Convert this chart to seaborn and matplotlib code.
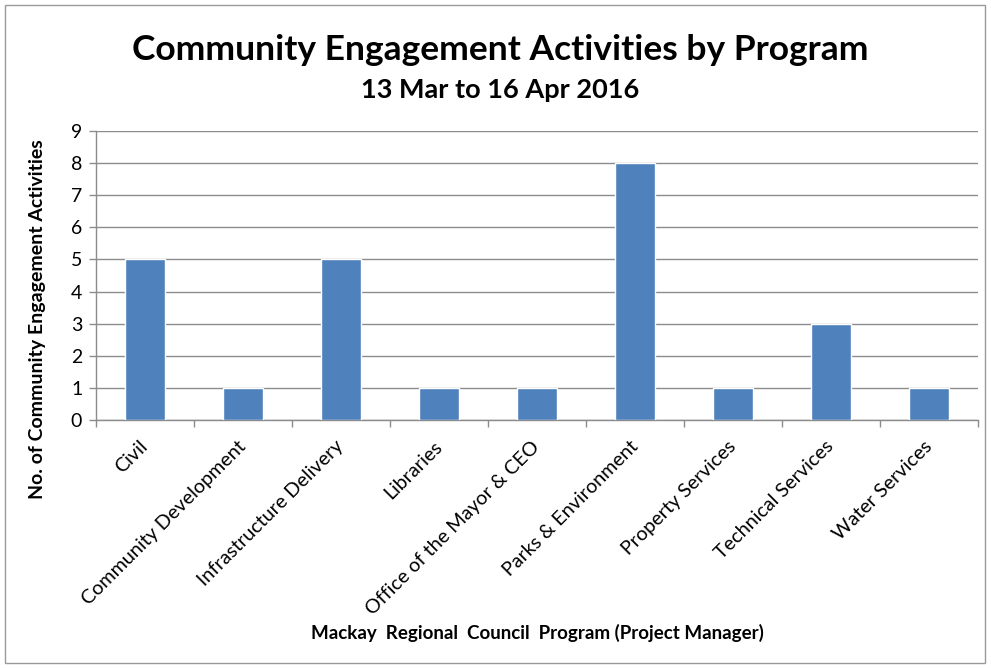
import matplotlib
matplotlib.use("Agg")
import matplotlib.pyplot as plt
import seaborn as sns
import pandas as pd
from matplotlib.patches import Rectangle

programs = ["Civil", "Community Development", "Infrastructure Delivery", "Libraries",
            "Office of the Mayor & CEO", "Parks & Environment", "Property Services",
            "Technical Services", "Water Services"]
activities = [5, 1, 5, 1, 1, 8, 1, 3, 1]
y_ticks = list(range(0, 10))

sns.set_theme(style="white")
plt.rcParams['font.family'] = ['Lato', 'DejaVu Sans']
plt.rcParams['text.color'] = 'black'
plt.rcParams['xtick.color'] = 'black'
plt.rcParams['ytick.color'] = 'black'
plt.rcParams['axes.labelcolor'] = 'black'

df = pd.DataFrame({"Program": programs, "Activities": activities})

fig = plt.figure(figsize=(9.91, 6.68), dpi=100)
ax = fig.add_axes([0.097, 0.371, 0.890, 0.433])

sns.barplot(data=df, x="Program", y="Activities", color="#4F81BD", width=0.41,
            saturation=1, ax=ax, zorder=3)

grid_col = "#8C8C8C"
ax.set_ylim(0, 9)
ax.set_xlim(-0.5, len(programs) - 0.5)
ax.set_yticks(y_ticks)
ax.yaxis.grid(True, color=grid_col, linewidth=1, zorder=0)
ax.set_axisbelow(True)
for side in ["top", "right"]:
    ax.spines[side].set_visible(False)
for side in ["left", "bottom"]:
    ax.spines[side].set_color(grid_col)
    ax.spines[side].set_linewidth(1)

# category ticks between bars, like Excel
ax.set_xticks([i - 0.5 for i in range(len(programs) + 1)], minor=True)
ax.tick_params(axis="x", which="minor", length=5, color=grid_col, width=1, direction="out", bottom=True)
ax.tick_params(axis="x", which="major", length=0, pad=17)
ax.tick_params(axis="y", length=5, color=grid_col, width=1, direction="out", left=True,
               labelsize=14, pad=5, labelcolor="black")
ax.set_xticks(range(len(programs)))
ax.set_xticklabels(programs, rotation=45, ha="right", va="center", rotation_mode="anchor",
                   fontsize=14.2, color="black")

ax.set_xlabel("")
ax.set_ylabel("No. of Community Engagement Activities", fontsize=14, fontweight="bold",
              color="black")
ax.yaxis.set_label_coords(-0.057, 0.35)

fig.text(0.505, 0.925, "Community Engagement Activities by Program", ha="center", va="center",
         fontsize=25.5, fontweight="bold", color="black")
fig.text(0.505, 0.866, "13 Mar to 16 Apr 2016", ha="center", va="center",
         fontsize=19.5, fontweight="bold", color="black")
fig.text(0.542, 0.052, "Mackay  Regional  Council  Program (Project Manager)", ha="center", va="center",
         fontsize=13.5, fontweight="bold", color="black")

fig.patches.append(Rectangle((0.005, 0.008), 0.989, 0.985, transform=fig.transFigure,
                             fill=False, edgecolor="#9A9A9A", linewidth=1))

fig.savefig("out.png", dpi=100)
